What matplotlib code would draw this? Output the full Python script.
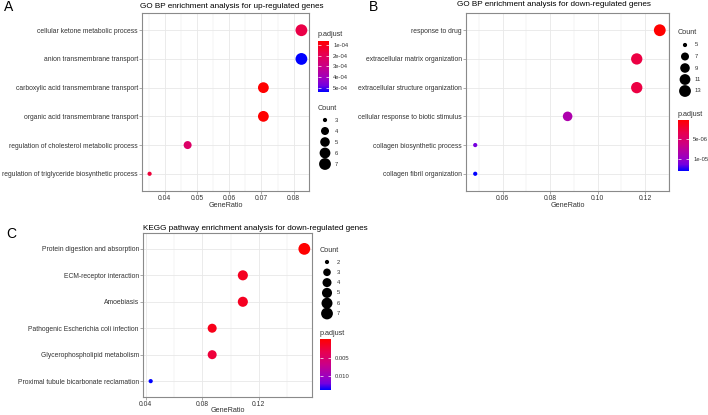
import matplotlib
matplotlib.use("Agg")
import matplotlib.pyplot as plt
import numpy as np
from matplotlib.cm import ScalarMappable
from matplotlib.colors import LinearSegmentedColormap, Normalize
from matplotlib.ticker import FixedLocator, FormatStrFormatter

plt.rcParams["font.family"] = ["Liberation Sans", "DejaVu Sans"]

W, H = 708, 415

# ---- panel A: GO BP, up-regulated
a_terms = [
    "cellular ketone metabolic process",
    "anion transmembrane transport",
    "carboxylic acid transmembrane transport",
    "organic acid transmembrane transport",
    "regulation of cholesterol metabolic process",
    "regulation of triglyceride biosynthetic process",
]
a_ratio = [0.0824, 0.0824, 0.0706, 0.0706, 0.0471, 0.0353]
a_count = [7, 7, 6, 6, 4, 3]
a_padj = [1.7e-4, 5.42e-4, 0.62e-4, 0.62e-4, 2.3e-4, 1.5e-4]
a_xticks = [0.04, 0.05, 0.06, 0.07, 0.08]
a_count_breaks = [3, 4, 5, 6, 7]
a_padj_ticks = [1e-4, 2e-4, 3e-4, 4e-4, 5e-4]
a_padj_labels = ["1e-04", "2e-04", "3e-04", "4e-04", "5e-04"]

# ---- panel B: GO BP, down-regulated
b_terms = [
    "response to drug",
    "extracellular matrix organization",
    "extracellular structure organization",
    "cellular response to biotic stimulus",
    "collagen biosynthetic process",
    "collagen fibril organization",
]
b_ratio = [0.1262, 0.1165, 0.1165, 0.0874, 0.0485, 0.0485]
b_count = [13, 12, 12, 9, 5, 5]
b_padj = [1e-8, 2.8e-6, 2.8e-6, 8.6e-6, 1.14e-5, 1.32e-5]
b_xticks = [0.06, 0.08, 0.10, 0.12]
b_count_breaks = [5, 7, 9, 11, 13]
b_padj_ticks = [5e-6, 1e-5]
b_padj_labels = ["5e-06", "1e-05"]

# ---- panel C: KEGG, down-regulated
c_terms = [
    "Protein digestion and absorption",
    "ECM-receptor interaction",
    "Amoebiasis",
    "Pathogenic Escherichia coli infection",
    "Glycerophospholipid metabolism",
    "Proximal tubule bicarbonate reclamation",
]
c_ratio = [0.1522, 0.1087, 0.1087, 0.0870, 0.0870, 0.0435]
c_count = [7, 5, 5, 4, 4, 2]
c_padj = [2e-5, 0.0015, 0.0015, 0.0011, 0.0026, 0.0137]
c_xticks = [0.04, 0.08, 0.12]
c_count_breaks = [2, 3, 4, 5, 6, 7]
c_padj_ticks = [0.005, 0.010]
c_padj_labels = ["0.005", "0.010"]

# red -> blue through Lab space, like ggplot's gradient
cmap = LinearSegmentedColormap.from_list(
    "redblue",
    [(0, "#FF0000"), (0.25, "#E8004F"), (0.5, "#C90088"),
     (0.75, "#9A00C3"), (0.875, "#7300E0"), (1, "#0000FF")],
)

GRID = "#E8E8E8"
FRAME = "#8A8A8A"
TXT = "#333333"


def px_axes(fig, left, top, right, bottom):
    return fig.add_axes([left / W, 1 - bottom / H, (right - left) / W, (bottom - top) / H])


def dot_size(counts, cmin, cmax, dmin=4.2, dmax=11.8):
    counts = np.asarray(counts, dtype=float)
    frac = np.sqrt((counts - cmin) / (cmax - cmin))
    d = dmin + (dmax - dmin) * frac
    return (d * 72 / 100) ** 2


def dot_panel(ax, terms, ratio, counts, padj, xticks):
    n = len(terms)
    y = np.arange(n)[::-1]
    norm = Normalize(min(padj), max(padj))
    ax.scatter(ratio, y, s=dot_size(counts, min(counts), max(counts)), c=padj,
               cmap=cmap, norm=norm, edgecolors="none", zorder=3)

    lo, hi = min(ratio), max(ratio)
    pad = 0.05 * (hi - lo)
    ax.set_xlim(lo - pad, hi + pad)
    ax.set_ylim(-0.6, n - 0.4)

    ax.set_yticks(y)
    ax.set_yticklabels(terms)
    ax.xaxis.set_major_locator(FixedLocator(xticks))
    step = xticks[1] - xticks[0]
    minor = np.arange(xticks[0] - step / 2, hi + pad, step)
    ax.xaxis.set_minor_locator(FixedLocator(minor))
    ax.xaxis.set_major_formatter(FormatStrFormatter("%.2f"))

    ax.grid(True, which="major", color=GRID, linewidth=0.6, zorder=0)
    ax.grid(True, which="minor", axis="x", color=GRID, linewidth=0.35, zorder=0)
    ax.set_axisbelow(True)
    ax.tick_params(axis="both", which="major", length=2, width=0.5, color=FRAME,
                   pad=1.0, labelcolor=TXT)
    ax.tick_params(axis="y", labelsize=4.85)
    ax.tick_params(axis="x", labelsize=4.9)
    ax.tick_params(which="minor", length=0)
    for sp in ax.spines.values():
        sp.set_color(FRAME)
        sp.set_linewidth(0.8)
    return norm


def colorbar_legend(fig, norm, left, top, ticks, labels):
    cax = px_axes(fig, left, top, left + 11, top + 51)
    cb = fig.colorbar(ScalarMappable(norm=norm, cmap=cmap), cax=cax)
    cax.invert_yaxis()
    cb.set_ticks(ticks)
    cb.set_ticklabels(labels)
    cb.outline.set_visible(False)
    cax.tick_params(labelsize=4.2, length=2, width=0.5, color="white",
                    direction="in", left=True, right=True, pad=3, labelcolor=TXT)
    fig.text(left / W, 1 - (top - 6) / H, "p.adjust", fontsize=5.2, color=TXT,
             ha="left", va="center")


def count_legend(fig, overlay, left, top, breaks, step):
    fig.text(left / W, 1 - top / H, "Count", fontsize=5.2, color=TXT,
             ha="left", va="center")
    ys = top + 12 + step * np.arange(len(breaks))
    xs = np.full(len(breaks), left + 7)
    overlay.scatter(xs, ys, s=dot_size(breaks, min(breaks), max(breaks)),
                    color="black", edgecolors="none")
    for yy, b in zip(ys, breaks):
        overlay.text(left + 17, yy, str(b), fontsize=4.2, color=TXT,
                     ha="left", va="center")


fig = plt.figure(figsize=(W / 100, H / 100), dpi=100)

ax_a = px_axes(fig, 142, 13, 309, 191)
ax_b = px_axes(fig, 466, 13, 669, 191)
ax_c = px_axes(fig, 143, 233, 312, 397)

norm_a = dot_panel(ax_a, a_terms, a_ratio, a_count, a_padj, a_xticks)
norm_b = dot_panel(ax_b, b_terms, b_ratio, b_count, b_padj, b_xticks)
norm_c = dot_panel(ax_c, c_terms, c_ratio, c_count, c_padj, c_xticks)

overlay = fig.add_axes([0, 0, 1, 1])
overlay.set_xlim(0, W)
overlay.set_ylim(H, 0)
overlay.axis("off")
overlay.patch.set_visible(False)

# legends
colorbar_legend(fig, norm_a, 318, 41, a_padj_ticks, a_padj_labels)
count_legend(fig, overlay, 318, 108, a_count_breaks, 11)

count_legend(fig, overlay, 678, 33, b_count_breaks, 11.5)
colorbar_legend(fig, norm_b, 678, 120, b_padj_ticks, b_padj_labels)

count_legend(fig, overlay, 320, 250, c_count_breaks, 10.3)
colorbar_legend(fig, norm_c, 320, 339, c_padj_ticks, c_padj_labels)

# titles and axis labels
titles = [
    (140, 6, "GO BP enrichment analysis for up-regulated genes"),
    (457, 5, "GO BP enrichment analysis for down-regulated genes"),
    (143, 228, "KEGG pathway enrichment analysis for down-regulated genes"),
]
for x, y, t in titles:
    fig.text(x / W, 1 - y / H, t, fontsize=5.9, color="black", ha="left", va="center")

for x, y in [(225.5, 205.5), (567.5, 205.5), (227.5, 410.5)]:
    fig.text(x / W, 1 - y / H, "GeneRatio", fontsize=5.2, color=TXT, ha="center", va="center")

for x, y, s in [(9, 7, "A"), (374, 7, "B"), (11, 234, "C")]:
    fig.text(x / W, 1 - y / H, s, fontsize=10, color="black", ha="center", va="center")

fig.savefig("out.png", dpi=100)
